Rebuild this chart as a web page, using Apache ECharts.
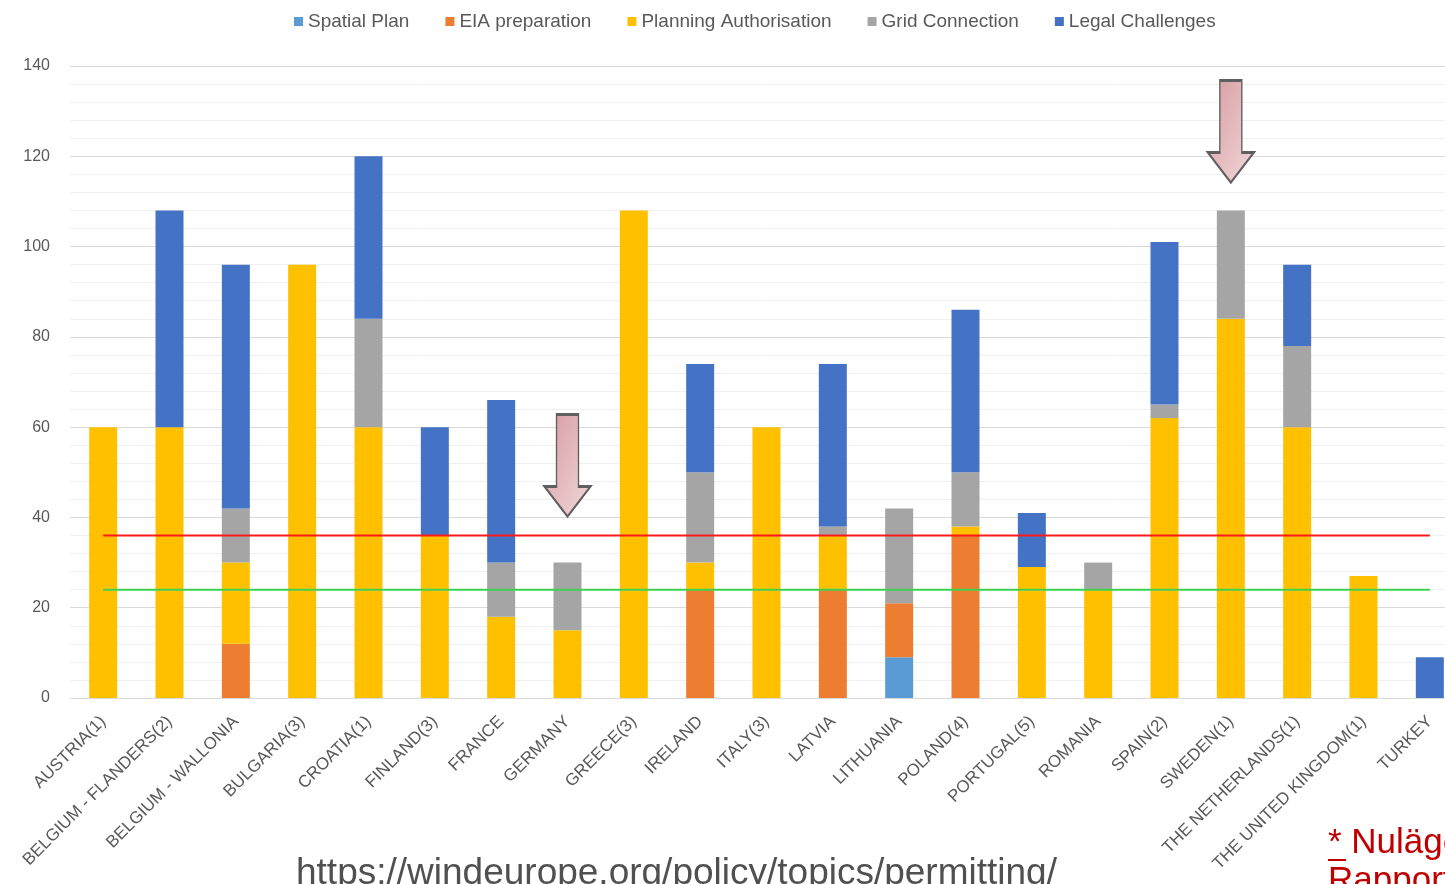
<!DOCTYPE html>
<html>
<head>
<meta charset="utf-8">
<script src="https://cdn.jsdelivr.net/npm/echarts@6/dist/echarts.min.js"></script>
<style>
  html, body { margin: 0; padding: 0; background: #fff; overflow: hidden; }
  #chart { width: 1470px; height: 884px; }
</style>
</head>
<body>
<div id="chart"></div>
<script>
let categories = ['AUSTRIA(1)', 'BELGIUM - FLANDERS(2)', 'BELGIUM - WALLONIA', 'BULGARIA(3)', 'CROATIA(1)',
  'FINLAND(3)', 'FRANCE', 'GERMANY', 'GREECE(3)', 'IRELAND', 'ITALY(3)', 'LATVIA', 'LITHUANIA',
  'POLAND(4)', 'PORTUGAL(5)', 'ROMANIA', 'SPAIN(2)', 'SWEDEN(1)', 'THE NETHERLANDS(1)',
  'THE UNITED KINGDOM(1)', 'TURKEY']

let spatialPlan = [0, 0, 0, 0, 0, 0, 0, 0, 0, 0, 0, 0, 9, 0, 0, 0, 0, 0, 0, 0, 0]
let eiaPrep     = [0, 0, 12, 0, 0, 0, 0, 0, 0, 24, 0, 24, 12, 36, 0, 0, 0, 0, 0, 0, 0]
let planning    = [60, 60, 18, 96, 60, 36, 18, 15, 108, 6, 60, 12, 0, 2, 29, 24, 62, 84, 60, 27, 0]
let gridConn    = [0, 0, 12, 0, 24, 0, 12, 15, 0, 20, 0, 2, 21, 12, 0, 6, 3, 24, 18, 0, 0]
let legal       = [0, 48, 54, 0, 36, 24, 36, 0, 0, 24, 0, 36, 0, 36, 12, 0, 36, 0, 18, 0, 9]

// the two reference levels drawn across the chart
let redLevel = categories.map(() => 36)
let greenLevel = categories.map(() => 24)

// arrows pointing down at Germany and Sweden
let arrows = [['GERMANY', 51.5], ['SWEDEN(1)', 125.5]]

let yTicks = [0, 20, 40, 60, 80, 100, 120, 140]

let arrowPath = 'path://M12,0 L34,0 L34,72 L46,72 L23,102 L0,72 L12,72 Z'

function bar(name, data, color) {
  return {
    name: name,
    type: 'bar',
    stack: 'total',
    barWidth: 28,
    data: data.map(v => v === 0 ? null : v),
    itemStyle: { color: color },
    emphasis: { disabled: true }
  }
}

function level(data, color) {
  return {
    type: 'line',
    data: data,
    symbol: 'none',
    z: 5,
    lineStyle: { color: color, width: 2 },
    emphasis: { disabled: true }
  }
}

var myChart = echarts.init(document.getElementById('chart'))

let series = [
  bar('Spatial Plan', spatialPlan, '#5B9BD5'),
  bar('EIA preparation', eiaPrep, '#ED7D31'),
  bar('Planning Authorisation', planning, '#FFC000'),
  bar('Grid Connection', gridConn, '#A5A5A5'),
  bar('Legal Challenges', legal, '#4472C4'),
  level(redLevel, '#FF1A1A'),
  level(greenLevel, '#3ED14F')
]

// arrows as markPoints on the last bar series
series[4].markPoint = {
  silent: true,
  symbol: arrowPath,
  symbolSize: [46, 102],
  label: { show: false },
  itemStyle: {
    color: new echarts.graphic.LinearGradient(0, 0, 1, 1, [
      { offset: 0, color: '#D69A9F' },
      { offset: 1, color: '#F2D9DB' }
    ]),
    borderColor: '#5F5F5F',
    borderWidth: 2
  },
  data: arrows.map(a => ({ coord: a }))
}

var option = {
  animation: false,
  textStyle: { fontFamily: 'Liberation Sans' },
  legend: {
    data: ['Spatial Plan', 'EIA preparation', 'Planning Authorisation', 'Grid Connection', 'Legal Challenges'],
    top: 7,
    left: 289,
    itemWidth: 9,
    itemHeight: 9,
    itemGap: 36,
    icon: 'rect',
    textStyle: { color: '#595959', fontSize: 19 }
  },
  grid: {
    left: 70,
    top: 66,
    right: 7,
    bottom: 186,
    containLabel: false
  },
  xAxis: {
    type: 'category',
    data: categories,
    axisLine: { lineStyle: { color: '#D9D9D9' } },
    axisTick: { show: false },
    axisLabel: {
      interval: 0,
      rotate: 45,
      margin: 21,
      color: '#595959',
      fontSize: 17
    }
  },
  yAxis: {
    type: 'value',
    min: 0,
    max: 140,
    interval: 20,
    axisLine: { show: false },
    axisTick: { show: false },
    axisLabel: {
      color: '#595959',
      fontSize: 16,
      margin: 20,
      formatter: v => yTicks.includes(v) ? String(v) : ''
    },
    splitLine: { lineStyle: { color: '#D9D9D9', width: 1 } },
    minorTick: { show: false, splitNumber: 5 },
    minorSplitLine: { show: true, lineStyle: { color: '#EFEFEF', width: 1 } }
  },
  series: series,
  graphic: [
    {
      type: 'text',
      left: 296,
      top: 855,
      style: {
        text: 'https://windeurope.org/policy/topics/permitting/',
        font: '37px "Liberation Sans"',
        fill: '#505050'
      }
    },
    {
      type: 'text',
      left: 1328,
      top: 824,
      style: {
        text: '* Nuläget\nRapport',
        font: '35px "Liberation Sans"',
        lineHeight: 38,
        fill: '#C00000'
      }
    },
    {
      type: 'rect',
      left: 1328,
      top: 859,
      shape: { width: 18, height: 2 },
      style: { fill: '#C00000' }
    }
  ]
}

myChart.setOption(option)
</script>
</body>
</html>
